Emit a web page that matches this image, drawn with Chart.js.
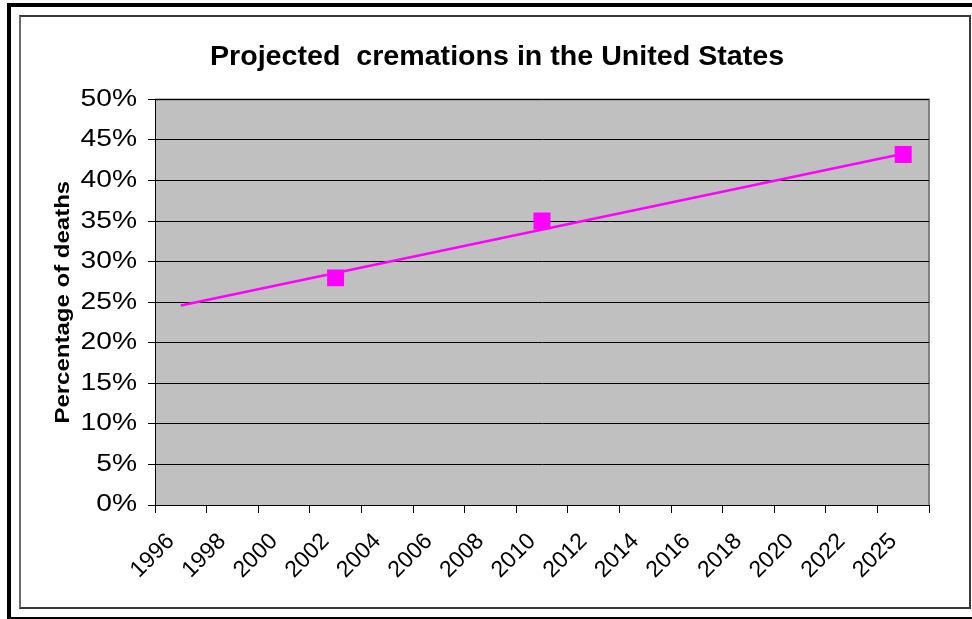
<!DOCTYPE html>
<html>
<head>
    <title>Projected cremations in the United States</title>
    <style>
        body { margin: 0; background-color: #ffffff; overflow: hidden; }
        #outerFrame {
            position: absolute; left: 7px; top: 3px;
            width: 980px; height: 610px;
            border: 4px solid #000000;
        }
        #innerFrame {
            position: absolute; left: 19px; top: 15px;
            width: 948px; height: 590px;
            border: 2px solid #3a3a3a;
            border-left-color: #6a6a6a;
        }
        #chart1 { position: absolute; left: 0; top: 0; }
    </style>
</head>
<body>
    <div id="outerFrame"></div>
    <div id="innerFrame"></div>
    <canvas id="chart1" width="972" height="619"></canvas>

    <script src="https://cdn.jsdelivr.net/npm/chart.js"></script>
    <script>
        // values
        var years = ['1996', '1998', '2000', '2002', '2004', '2006', '2008', '2010',
                     '2012', '2014', '2016', '2018', '2020', '2022', '2025'];
        var cremationPct = [null, null, null, 28, null, null, null, 35,
                            null, null, null, null, null, null, 43.2];
        var trendPct = [24.6, null, null, null, null, null, null, null,
                        null, null, null, null, null, null, 43.3];
        var yTicks = [0, 5, 10, 15, 20, 25, 30, 35, 40, 45, 50];

        var FONT = 'Arial, "Liberation Sans", sans-serif';

        var ctx1 = document.getElementById('chart1').getContext('2d');

        // some of the original text is drawn wider than plain Arial, so stretch it
        // along its baseline, keyed on the font size in use
        var stretchBySize = { 27: 1.06, 20: 1.2, 23.5: 1.2 };
        function currentStretch(ctx) {
            var m = /(\d+(?:\.\d+)?)px/.exec(ctx.font);
            return (m && stretchBySize[m[1]]) || 1;
        }
        var origFillText = ctx1.fillText.bind(ctx1);
        var origMeasureText = ctx1.measureText.bind(ctx1);
        ctx1.fillText = function (text, x, y) {
            var s = currentStretch(ctx1);
            ctx1.save();
            ctx1.translate(x, y);
            ctx1.scale(s, 1);
            origFillText(text, 0, 0);
            ctx1.restore();
        };
        ctx1.measureText = function (text) {
            var m = origMeasureText(text);
            return { width: m.width * currentStretch(ctx1),
                     actualBoundingBoxAscent: m.actualBoundingBoxAscent,
                     actualBoundingBoxDescent: m.actualBoundingBoxDescent };
        };

        // grey plot area with a grey frame on top and right, like Excel
        var plotArea = {
            id: 'plotArea',
            beforeDraw: function (chart) {
                var a = chart.chartArea, ctx = chart.ctx;
                ctx.save();
                ctx.fillStyle = '#c0c0c0';
                ctx.fillRect(a.left, a.top, a.right - a.left, a.bottom - a.top);
                ctx.strokeStyle = '#808080';
                ctx.lineWidth = 2;
                ctx.beginPath();
                ctx.moveTo(a.left, a.top);
                ctx.lineTo(a.right, a.top);
                ctx.lineTo(a.right, a.bottom);
                ctx.stroke();
                ctx.restore();
            }
        };

        var chart1 = new Chart(ctx1, {
            type: 'line',
            data: {
                labels: years,
                datasets: [{
                    label: 'Trend',
                    data: trendPct,
                    borderColor: '#ff00ff',
                    borderWidth: 2.5,
                    pointRadius: 0,
                    spanGaps: true,
                    order: 1
                }, {
                    label: 'Cremations',
                    data: cremationPct,
                    showLine: false,
                    pointStyle: 'rect',
                    pointRadius: 12,
                    pointBorderWidth: 0,
                    pointBackgroundColor: '#ff00ff',
                    pointBorderColor: '#ff00ff',
                    order: 2
                }]
            },
            options: {
                responsive: false,
                animation: false,
                layout: { padding: { left: 22, right: 0, top: 0, bottom: 11 } },
                plugins: {
                    legend: { display: false },
                    tooltip: { enabled: false },
                    title: {
                        display: true,
                        text: 'Projected  cremations in the United States',
                        color: '#000000',
                        font: { family: FONT, size: 27, weight: 'bold', lineHeight: 1.2 },
                        padding: { top: 41, bottom: 26 }
                    }
                },
                scales: {
                    x: {
                        offset: true,
                        grid: { offset: true, drawOnChartArea: false, color: '#000000', tickLength: 8, lineWidth: 1 },
                        border: { color: '#000000', width: 1 },
                        ticks: {
                            color: '#000000',
                            font: { family: FONT, size: 23 },
                            maxRotation: 45, minRotation: 45,
                            autoSkip: false,
                            padding: 15,
                            labelOffset: -10
                        },
                        afterFit: function (scale) { scale.height = 103; }
                    },
                    y: {
                        min: 0, max: 50,
                        afterBuildTicks: function (scale) {
                            scale.ticks = yTicks.map(function (v) { return { value: v }; });
                        },
                        grid: { color: '#000000', tickLength: 7, lineWidth: 1 },
                        border: { color: '#000000', width: 1 },
                        ticks: {
                            color: '#000000',
                            font: { family: FONT, size: 23.5 },
                            padding: 11,
                            callback: function (v) { return v + '%'; }
                        },
                        title: {
                            display: true,
                            text: 'Percentage of deaths',
                            color: '#000000',
                            font: { family: FONT, size: 20, weight: 'bold', lineHeight: 1.2 },
                            padding: { top: 29, bottom: 0 }
                        },
                        afterFit: function (scale) { scale.width = 133; }
                    },
                    // empty box on the right, keeps the plot clear of the frame
                    yRight: {
                        position: 'right',
                        min: 0, max: 50,
                        grid: { display: false },
                        border: { display: false },
                        ticks: { display: false },
                        afterFit: function (scale) { scale.width = 43; }
                    }
                }
            },
            plugins: [plotArea]
        });
    </script>
</body>
</html>
